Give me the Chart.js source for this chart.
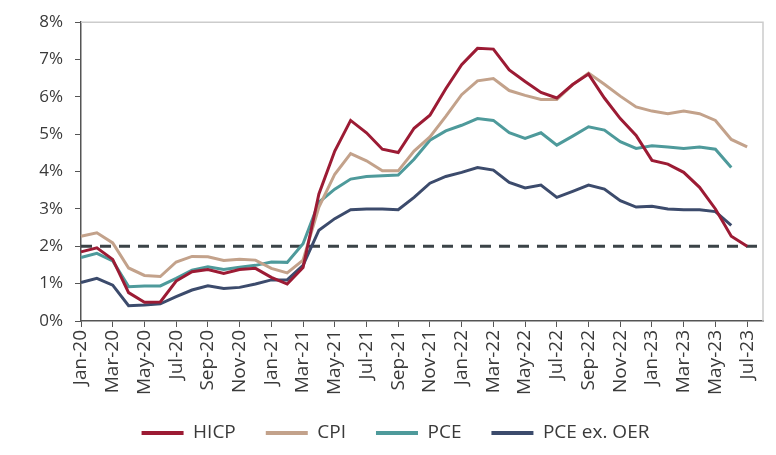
<!DOCTYPE html>
<html>
<head>
<meta charset="utf-8">
<script src="https://cdn.jsdelivr.net/npm/chart.js@4.4.1/dist/chart.umd.min.js"></script>
<style>
  html, body { margin: 0; padding: 0; background: #fff; }
  #wrap { width: 776px; height: 455px; }
</style>
</head>
<body>
<div id="wrap"><canvas id="Inflation-Chart"></canvas></div>
<script>
const months = [
  "Jan-20", "Feb-20", "Mar-20", "Apr-20", "May-20", "Jun-20", "Jul-20", "Aug-20", "Sep-20", "Oct-20", "Nov-20", "Dec-20",
  "Jan-21", "Feb-21", "Mar-21", "Apr-21", "May-21", "Jun-21", "Jul-21", "Aug-21", "Sep-21", "Oct-21", "Nov-21", "Dec-21",
  "Jan-22", "Feb-22", "Mar-22", "Apr-22", "May-22", "Jun-22", "Jul-22", "Aug-22", "Sep-22", "Oct-22", "Nov-22", "Dec-22",
  "Jan-23", "Feb-23", "Mar-23", "Apr-23", "May-23", "Jun-23", "Jul-23", "Aug-23",
];

const hicp = [
  1.85, 1.96, 1.65, 0.76, 0.50, 0.51, 1.07, 1.32, 1.38, 1.27, 1.38, 1.41,
  1.17, 0.99, 1.43, 3.40, 4.55, 5.37, 5.04, 4.60, 4.51, 5.16, 5.51, 6.22,
  6.86, 7.30, 7.28, 6.72, 6.41, 6.12, 5.97, 6.33, 6.61, 5.97, 5.42, 4.97,
  4.30, 4.20, 3.98, 3.58, 3.00, 2.27, 2.00,
];

const cpi = [
  2.27, 2.36, 2.09, 1.42, 1.22, 1.19, 1.58, 1.73, 1.72, 1.62, 1.65, 1.63,
  1.41, 1.29, 1.63, 3.05, 3.93, 4.48, 4.29, 4.02, 4.02, 4.55, 4.93, 5.48,
  6.06, 6.43, 6.49, 6.17, 6.04, 5.93, 5.93, 6.33, 6.64, 6.34, 6.02, 5.73,
  5.62, 5.55, 5.62, 5.55, 5.37, 4.86, 4.66,
];

const pce = [
  1.70, 1.81, 1.61, 0.92, 0.94, 0.94, 1.14, 1.36, 1.45, 1.38, 1.44, 1.49,
  1.58, 1.57, 2.07, 3.18, 3.53, 3.80, 3.87, 3.89, 3.91, 4.33, 4.84, 5.09,
  5.24, 5.42, 5.37, 5.04, 4.89, 5.04, 4.71, 4.95, 5.20, 5.11, 4.80, 4.62,
  4.69, 4.66, 4.62, 4.66, 4.60, 4.11,
];

const pceExOer = [
  1.03, 1.14, 0.96, 0.41, 0.43, 0.46, 0.65, 0.83, 0.94, 0.87, 0.90, 0.99,
  1.10, 1.10, 1.49, 2.43, 2.74, 2.98, 3.00, 3.00, 2.98, 3.31, 3.69, 3.87,
  3.98, 4.11, 4.04, 3.71, 3.56, 3.64, 3.31, 3.47, 3.64, 3.53, 3.22, 3.05,
  3.07, 3.00, 2.98, 2.98, 2.93, 2.56,
];

// 2% target line
const target = 2;

const font = "'Open Sans', 'Noto Sans', sans-serif";
const textColor = "#3a3a3a";

function series(label, values, color) {
  return {
    label: label,
    data: values,
    borderColor: color,
    backgroundColor: color,
    borderWidth: 3,
    pointRadius: 0,
    pointHoverRadius: 0,
    tension: 0,
  };
}

// top/right frame + dashed target, legend nudged right
const framePlugin = {
  id: "frame",
  afterLayout(chart) {
    chart.legend.left += 14;
    chart.legend.right += 14;
  },
  beforeDatasetsDraw(chart) {
    const { ctx, chartArea: a, scales } = chart;
    ctx.save();
    ctx.strokeStyle = "#cccccc";
    ctx.lineWidth = 1.5;
    ctx.beginPath();
    ctx.moveTo(a.left, a.top);
    ctx.lineTo(a.right, a.top);
    ctx.lineTo(a.right, a.bottom);
    ctx.stroke();

    const y = scales.y.getPixelForValue(target);
    ctx.strokeStyle = "#3b4347";
    ctx.lineWidth = 3;
    ctx.setLineDash([11, 8]);
    ctx.beginPath();
    ctx.moveTo(a.left, y);
    ctx.lineTo(a.right, y);
    ctx.stroke();
    ctx.restore();
  },
};

const config = {
  type: "line",
  data: {
    labels: months,
    datasets: [
      series("HICP", hicp, "#9c1b34"),
      series("CPI", cpi, "#c3a28b"),
      series("PCE", pce, "#4e9a9b"),
      series("PCE ex. OER", pceExOer, "#3c4b6c"),
    ],
  },
  options: {
    maintainAspectRatio: false,
    animation: false,
    layout: { padding: { left: 0, right: 13, top: 20, bottom: 2.5 } },
    scales: {
      x: {
        afterBuildTicks: (s) => {
          s.ticks = s.ticks.filter((t) => t.value % 2 === 0);
        },
        afterFit: (s) => {
          s.height = 72.5;
        },
        grid: { drawOnChartArea: false, tickLength: 6, color: "#555", lineWidth: 1 },
        border: { color: "#555", width: 1.5 },
        ticks: {
          autoSkip: false,
          minRotation: 90,
          maxRotation: 90,
          padding: 3,
          color: textColor,
          font: { family: font, size: 19 },
        },
      },
      y: {
        min: 0,
        max: 8,
        afterFit: (s) => {
          s.width = 81;
        },
        grid: { drawOnChartArea: false, tickLength: 6, color: "#555", lineWidth: 1 },
        border: { color: "#555", width: 1.5 },
        ticks: {
          stepSize: 1,
          padding: 12,
          color: textColor,
          font: { family: font, size: 17 },
          callback: (v) => v + "%",
        },
      },
    },
    plugins: {
      title: { display: false },
      tooltip: { enabled: false },
      legend: {
        position: "bottom",
        labels: {
          boxWidth: 42,
          boxHeight: 4,
          padding: 30,
          color: textColor,
          font: { family: font, size: 19 },
          generateLabels: (c) =>
            Chart.defaults.plugins.legend.labels.generateLabels(c).map((l) => ({ ...l, lineWidth: 0 })),
        },
      },
    },
  },
  plugins: [framePlugin],
};

let myChart = new Chart(document.getElementById("Inflation-Chart"), config);
</script>
</body>
</html>
